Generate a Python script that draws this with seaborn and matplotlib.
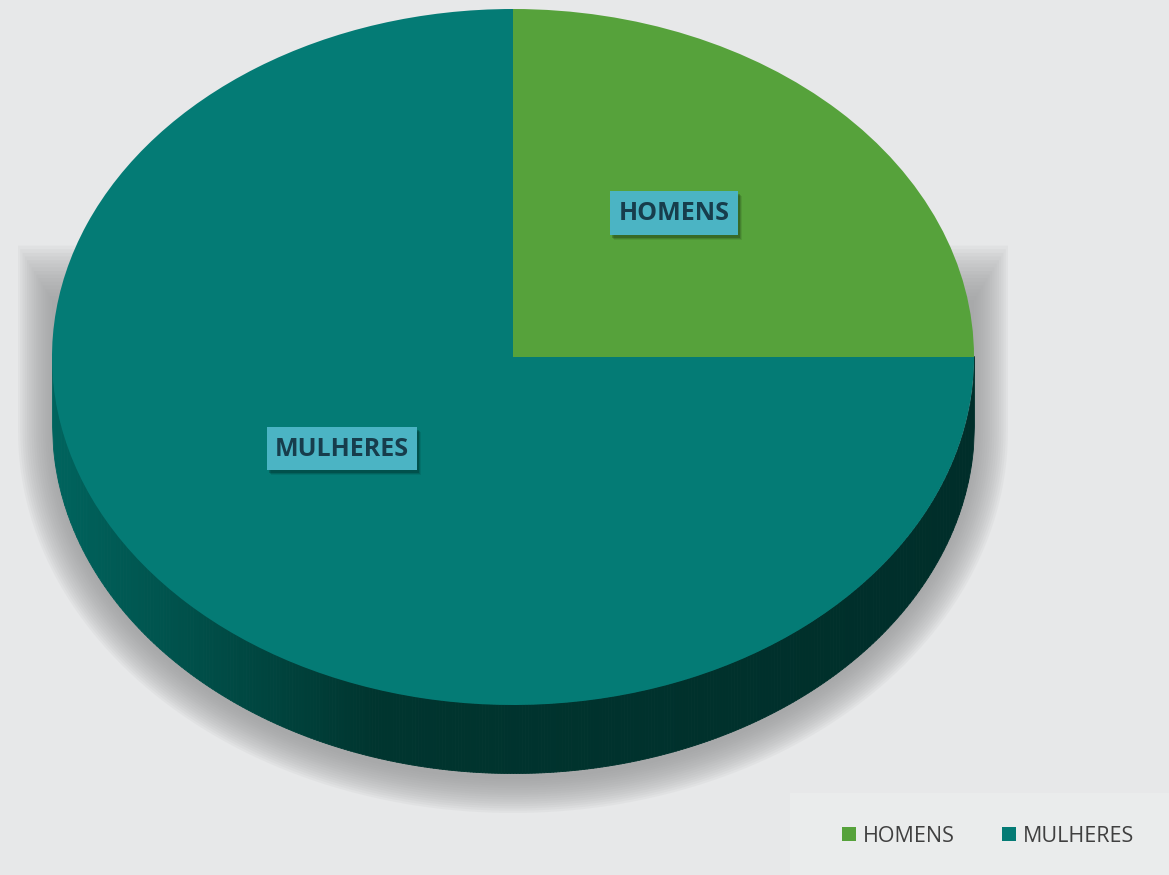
import numpy as np
import matplotlib
matplotlib.use("Agg")
import matplotlib.pyplot as plt
import seaborn as sns
from matplotlib.patches import Rectangle, Polygon
from matplotlib.colors import to_rgb

# Data
labels = ["HOMENS", "MULHERES"]
values = [25, 75]
colors = ["#56a23b", "#047b75"]

sns.set_theme(style="white")
plt.rcParams["font.family"] = ["Open Sans", "DejaVu Sans"]

W, H = 1169, 875
BG = "#e7e8e9"
fig = plt.figure(figsize=(W / 100, H / 100), dpi=100)
fig.patch.set_facecolor(BG)

# background axes in pixel units (y down)
bg = fig.add_axes([0, 0, 1, 1])
bg.set_xlim(0, W)
bg.set_ylim(H, 0)
bg.axis("off")

# pie geometry (pixels)
cx, cy, rx, ry, depth = 513, 357, 461, 348, 68

# soft shadow under the pie
t = np.linspace(0, np.pi, 120)
for s in np.linspace(34, 0, 16):
    xs = cx + (rx + s) * np.cos(t)
    ys = cy + depth + 6 + (ry + s) * np.sin(t)
    xs = np.concatenate([[cx + rx + s], xs, [cx - rx - s]])
    ys = np.concatenate([[300 - 1.6 * s], ys, [300 - 1.6 * s]])
    bg.add_patch(Polygon(np.column_stack([xs, ys]), closed=True,
                         fc="#959697", ec="none", alpha=0.075))

# side wall with gradient
def side_color(u):
    left, mid, right = map(np.array, (to_rgb("#00645e"), to_rgb("#00352f"), to_rgb("#002e2a")))
    if u < -0.3:
        f = (u + 1) / 0.7
        return left * (1 - f) + mid * f
    f = (u + 0.3) / 1.3
    return mid * (1 - f) + right * f

n = 300
us = np.linspace(-1, 1, n + 1)
for i in range(n):
    uu = np.linspace(us[i], us[i + 1], 4)
    top = cy + ry * np.sqrt(np.clip(1 - uu ** 2, 0, 1))
    c = side_color((us[i] + us[i + 1]) / 2)
    bg.fill_between(cx + rx * uu, top - 1, top + depth, color=c, linewidth=0.6, edgecolor=c)

# top surface: a pie squashed into an ellipse
ax = fig.add_axes([(cx - rx) / W, (H - (cy + ry)) / H, 2 * rx / W, 2 * ry / H])
ax.patch.set_alpha(0)
wedges, _ = ax.pie(values, colors=colors, startangle=90, counterclock=False,
                   radius=1, wedgeprops=dict(linewidth=0))
ax.set_xlim(-1, 1)
ax.set_ylim(-1, 1)
ax.set_aspect("auto")
ax.axis("off")

# overlay for data labels
ov = fig.add_axes([0, 0, 1, 1])
ov.set_xlim(0, W)
ov.set_ylim(H, 0)
ov.patch.set_alpha(0)
ov.axis("off")

label_box = {"HOMENS": (610, 191, 128, 44), "MULHERES": (267, 427, 150, 43)}
for lab in labels:
    x, y, w, h = label_box[lab]
    for k, a in ((5, 0.08), (4, 0.12), (3, 0.18)):
        ov.add_patch(Rectangle((x + k - 1, y + k), w, h, fc="#000000", ec="none", alpha=a))
    ov.add_patch(Rectangle((x, y), w, h, fc="#4bb4c4", ec="none"))
    ov.text(x + w / 2, y + h / 2 + 1, lab, ha="center", va="center",
            fontsize=18, fontweight="bold", color="#173d4c")

# legend panel
bg.add_patch(Rectangle((790, 793), W - 790, H - 793, fc="#eaecec", ec="none"))
leg = fig.legend(wedges, labels, loc="center", bbox_to_anchor=(988 / W, 1 - 836 / H),
                 ncol=2, frameon=False, fontsize=15.5, handlelength=0.65, handleheight=0.65,
                 handletextpad=0.3, columnspacing=2.2)
for txt in leg.get_texts():
    txt.set_color("#404040")

fig.savefig("out.png", dpi=100, facecolor=BG)
